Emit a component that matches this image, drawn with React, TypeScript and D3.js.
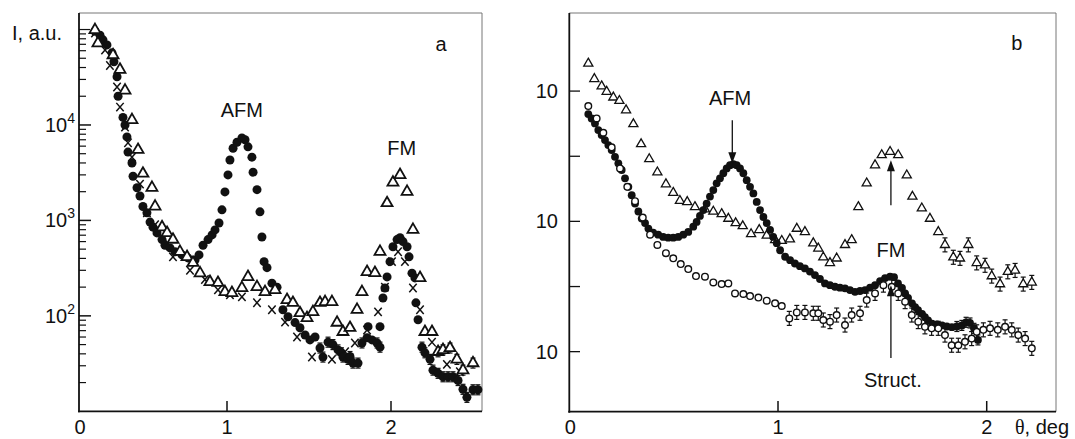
import React, { useEffect, useRef } from "react";
import * as d3 from "d3";

type Pt = [number, number];

// ---- panel a: intensity (a.u.) vs theta (deg), log y ----
const aCircles: Pt[] = [
  [0.108, 96000], [0.142, 87000], [0.162, 78000], [0.189, 69000], [0.223, 57000],
  [0.236, 46000], [0.257, 32000], [0.264, 20000], [0.297, 12000], [0.311, 10000],
  [0.324, 7500], [0.331, 5200], [0.358, 4000], [0.365, 2900], [0.392, 2200],
  [0.412, 1800], [0.432, 1400], [0.459, 1200], [0.48, 960], [0.5, 850],
  [0.527, 740], [0.561, 630], [0.581, 550], [0.615, 515], [0.649, 470],
  [0.696, 435], [0.736, 405], [0.784, 385], [0.811, 435], [0.838, 550],
  [0.872, 630], [0.899, 705], [0.919, 795], [0.946, 940], [0.966, 1290],
  [0.986, 1990], [1.006, 3000], [1.018, 4300], [1.037, 5700], [1.061, 6600],
  [1.091, 7300], [1.11, 7000], [1.128, 5900], [1.152, 4600], [1.159, 3200],
  [1.183, 2100], [1.201, 1230], [1.213, 670], [1.226, 370], [1.244, 320],
  [1.274, 220], [1.305, 200], [1.341, 116], [1.372, 98], [1.415, 85],
  [1.445, 75], [1.476, 63], [1.506, 56], [1.537, 60], [1.567, 46],
  [1.585, 37], [1.616, 53], [1.646, 50], [1.677, 44], [1.698, 41],
  [1.707, 37], [1.738, 35], [1.75, 37.5], [1.768, 32], [1.799, 32],
  [1.823, 52], [1.854, 59], [1.86, 77], [1.884, 56], [1.915, 52],
  [1.933, 77], [1.933, 47], [1.951, 154], [1.963, 196], [1.976, 256],
  [1.994, 370], [2.012, 530], [2.037, 630], [2.055, 660], [2.073, 600],
  [2.098, 530], [2.11, 415], [2.128, 280], [2.146, 250], [2.152, 137],
  [2.165, 91], [2.189, 47], [2.207, 41], [2.238, 35], [2.256, 27],
  [2.287, 25], [2.317, 23], [2.348, 23], [2.378, 23], [2.409, 21],
  [2.439, 17], [2.463, 14], [2.5, 16.8], [2.53, 16.8],
];

const aTriangles: Pt[] = [
  [0.108, 99000], [0.128, 72000], [0.23, 54000], [0.277, 38000], [0.311, 23000],
  [0.358, 11300], [0.399, 5500], [0.432, 3100], [0.493, 2200], [0.514, 1400],
  [0.561, 850], [0.595, 740], [0.635, 630], [0.682, 470], [0.73, 415],
  [0.77, 360], [0.818, 280], [0.885, 227], [0.939, 222], [0.986, 178],
  [1.03, 174], [1.091, 196], [1.128, 256], [1.183, 201], [1.232, 178],
  [1.293, 187], [1.366, 147], [1.402, 137], [1.445, 107], [1.488, 95],
  [1.524, 110], [1.567, 137], [1.598, 140], [1.64, 140], [1.671, 85],
  [1.707, 68], [1.75, 75], [1.793, 116], [1.823, 178], [1.854, 289],
  [1.902, 282], [1.933, 470], [1.976, 1520], [2.012, 2500], [2.055, 3000],
  [2.098, 2000], [2.134, 800], [2.177, 250], [2.207, 68], [2.25, 68],
  [2.287, 42], [2.317, 44], [2.36, 46], [2.402, 35], [2.439, 27], [2.5, 32],
];

const aCrosses: Pt[] = [
  [0.108, 92000], [0.176, 61000], [0.209, 42000], [0.257, 25000], [0.277, 15400],
  [0.311, 9500], [0.331, 6500], [0.358, 4600], [0.412, 2400], [0.459, 1200],
  [0.514, 900], [0.568, 660], [0.635, 415], [0.75, 300], [0.851, 240],
  [0.939, 187], [1.018, 166], [1.091, 158], [1.183, 137], [1.274, 116],
  [1.354, 86], [1.427, 60], [1.518, 37], [1.64, 35], [1.72, 42],
  [1.78, 52], [1.854, 71], [1.921, 110], [1.963, 200], [2.006, 370],
  [2.043, 470], [2.085, 370], [2.134, 196], [2.177, 116], [2.25, 53],
  [2.341, 31], [2.42, 26],
];

const aXTicks = [0, 1, 2];
const aYTicks = [100, 1000, 10000];
const aYTickExp = ["2", "3", "4"];

// ---- panel b ----
const bFilled: Pt[] = [
  [0.091, 666], [0.107, 616], [0.123, 565], [0.139, 502], [0.155, 460],
  [0.171, 421], [0.187, 385], [0.203, 353], [0.219, 313], [0.235, 279],
  [0.251, 248], [0.267, 214], [0.283, 184], [0.299, 159], [0.315, 137],
  [0.331, 119], [0.347, 105], [0.363, 97], [0.379, 88], [0.402, 82],
  [0.426, 79], [0.45, 76], [0.474, 75], [0.498, 75], [0.522, 76],
  [0.546, 79], [0.57, 83], [0.594, 91], [0.61, 99], [0.626, 110],
  [0.642, 122], [0.658, 137], [0.674, 155], [0.69, 174], [0.706, 196],
  [0.722, 214], [0.738, 234], [0.754, 255], [0.77, 270], [0.786, 275],
  [0.802, 270], [0.818, 255], [0.834, 234], [0.85, 207], [0.866, 184],
  [0.882, 164], [0.898, 141], [0.914, 122], [0.93, 108], [0.946, 97],
  [0.962, 86], [0.977, 76], [0.994, 68], [1.01, 60], [1.034, 53.5],
  [1.058, 50.4], [1.081, 47.5], [1.105, 45.3], [1.129, 43.5], [1.153, 41.2],
  [1.177, 38.7], [1.201, 36.1], [1.225, 33.4], [1.249, 32.4], [1.273, 31.5],
  [1.297, 31], [1.321, 30.6], [1.345, 29.7], [1.369, 28.8], [1.393, 29.2],
  [1.417, 29.7], [1.441, 31], [1.465, 32.4], [1.489, 34.8], [1.513, 36.7],
  [1.537, 37.6], [1.556, 37.3], [1.575, 33.4], [1.594, 30.8], [1.609, 28],
  [1.623, 25.8], [1.642, 23.5], [1.657, 22], [1.671, 20.8], [1.69, 19.5],
  [1.704, 18.4], [1.719, 17.4], [1.738, 16.4], [1.762, 16.2], [1.786, 15.9],
  [1.809, 15.6], [1.833, 15.4], [1.857, 15.6], [1.881, 15.9], [1.901, 16.8],
  [1.92, 16.6], [1.939, 15.1], [1.958, 12.3],
];

const bOpen: Pt[] = [
  [0.091, 767], [0.131, 617], [0.163, 479], [0.203, 370], [0.243, 255],
  [0.278, 184], [0.315, 143], [0.352, 107], [0.387, 79], [0.422, 66],
  [0.463, 57], [0.498, 52], [0.534, 47], [0.57, 43], [0.607, 38],
  [0.65, 37.6], [0.69, 34], [0.73, 33], [0.762, 33.4], [0.794, 28],
  [0.834, 27.7], [0.866, 26.7], [0.906, 26], [0.946, 24.6], [0.986, 23.5],
  [1.018, 22.4], [1.054, 18], [1.09, 20], [1.129, 20], [1.169, 19.7],
  [1.193, 19.7], [1.217, 17.5], [1.249, 17], [1.281, 19.1], [1.321, 16],
  [1.353, 19.1], [1.393, 19.7], [1.425, 24.9], [1.465, 28], [1.505, 32.4],
  [1.545, 31.5], [1.576, 28], [1.609, 24.2], [1.641, 19.1], [1.672, 17],
  [1.704, 15.5], [1.736, 15.1], [1.768, 15.1], [1.8, 13.4], [1.832, 11.2],
  [1.864, 11.2], [1.896, 11.9], [1.928, 12.6], [1.952, 14.2], [1.984, 14.7],
  [2.016, 15.1], [2.053, 14.7], [2.088, 15.5], [2.12, 14.7], [2.151, 13.4],
  [2.184, 12.6], [2.216, 10.6],
];

const bTriangles: Pt[] = [
  [0.091, 1630], [0.12, 1240], [0.155, 1090], [0.179, 990], [0.211, 895],
  [0.24, 843], [0.272, 714], [0.307, 558], [0.344, 392], [0.383, 301],
  [0.422, 238], [0.463, 193], [0.498, 166], [0.53, 144], [0.565, 141],
  [0.602, 129], [0.65, 124], [0.69, 119], [0.73, 114], [0.762, 105],
  [0.797, 97], [0.831, 92], [0.871, 80], [0.91, 86], [0.946, 78],
  [0.986, 72], [1.018, 71], [1.057, 73], [1.09, 88], [1.129, 83],
  [1.169, 68], [1.193, 62], [1.217, 53], [1.249, 48], [1.281, 52],
  [1.321, 66], [1.353, 72], [1.385, 129], [1.425, 196], [1.465, 270],
  [1.497, 323], [1.537, 342], [1.576, 323], [1.617, 226], [1.644, 155],
  [1.689, 126], [1.728, 105], [1.768, 83], [1.8, 66], [1.84, 53],
  [1.872, 52], [1.912, 66], [1.952, 48], [1.992, 46], [2.024, 38],
  [2.064, 33], [2.101, 41], [2.136, 42], [2.175, 33], [2.216, 34],
];

const bXTicks = [0, 1, 2];
const bYTicks = [10, 100, 1000];
const bYMinor = [31.6, 316];

const aNotes = [
  { text: "AFM", x: 1.09, y: 12100 },
  { text: "FM", x: 2.065, y: 4850 },
  { text: "a", x: 2.305, y: 59600 },
];
const bNotes = [
  { text: "AFM", x: 0.77, y: 782 },
  { text: "FM", x: 1.541, y: 53.5 },
  { text: "Struct.", x: 1.55, y: 5.38 },
  { text: "b", x: 2.144, y: 2070 },
];
// vertical arrows: [x, tail value, head value]
const bArrows: [number, number, number][] = [
  [0.781, 598, 279],
  [1.541, 133, 295],
  [1.541, 8.93, 32.4],
];

const W = 1075;
const H = 439;
const FONT = "'Liberation Sans', Arial, Helvetica, sans-serif";
const INK = "#111";
const LABEL_Y = 434;

export default function App() {
  const svgRef = useRef<SVGSVGElement>(null);

  useEffect(() => {
    const svg = d3.select(svgRef.current);
    svg.selectAll("*").remove();
    svg.append("rect").attr("width", W).attr("height", H).attr("fill", "#fff");

    const frame = (x0: number, x1: number, y0: number, y1: number) => {
      svg.append("line").attr("x1", x0).attr("x2", x1).attr("y1", y0).attr("y2", y0)
        .attr("stroke", "#777").attr("stroke-width", 1);
      svg.append("line").attr("x1", x1).attr("x2", x1).attr("y1", y0).attr("y2", y1)
        .attr("stroke", "#777").attr("stroke-width", 1);
      svg.append("line").attr("x1", x0).attr("x2", x0).attr("y1", y0).attr("y2", y1 + 1)
        .attr("stroke", INK).attr("stroke-width", 1.8);
      svg.append("line").attr("x1", x0 - 1).attr("x2", x1).attr("y1", y1).attr("y2", y1)
        .attr("stroke", INK).attr("stroke-width", 1.8);
    };

    const errBars = (pts: Pt[], x: any, y: any, half: number) => {
      const g = svg.append("g").attr("stroke", INK).attr("stroke-width", 1.2);
      pts.forEach(([vx, vy]) => {
        const cx = x(vx), cy = y(vy);
        g.append("line").attr("x1", cx).attr("x2", cx).attr("y1", cy - half).attr("y2", cy + half);
        g.append("line").attr("x1", cx - 2.5).attr("x2", cx + 2.5).attr("y1", cy + half).attr("y2", cy + half);
        g.append("line").attr("x1", cx - 2.5).attr("x2", cx + 2.5).attr("y1", cy - half).attr("y2", cy - half);
      });
    };

    const text = (t: string, x: number, y: number, anchor = "middle") =>
      svg.append("text").attr("x", x).attr("y", y).attr("text-anchor", anchor)
        .attr("font-family", FONT).attr("font-size", 20).attr("fill", INK).text(t);

    // ================= panel a =================
    // the original axis is unevenly spaced between 0,1 and 1,2
    const xa = d3.scaleLinear().domain([0, 1, 2, 2.555]).range([79, 227, 391, 482]);
    const ya = d3.scaleLog().domain([10, 149000]).range([411.3, 13]);
    frame(79, 482, 13, 411.3);

    // y ticks (inside)
    const aMinor = ya.ticks().filter((v) => !aYTicks.includes(v) && v > 10);
    svg.append("g").selectAll("line").data(aMinor).join("line")
      .attr("x1", 79).attr("x2", (d) => (Math.abs(Math.log10(d) - Math.round(Math.log10(d))) < 1e-6 ? 90 : 86))
      .attr("y1", (d) => ya(d)).attr("y2", (d) => ya(d))
      .attr("stroke", INK).attr("stroke-width", 1.2);
    svg.append("g").selectAll("line").data(aYTicks).join("line")
      .attr("x1", 79).attr("x2", 91).attr("y1", (d) => ya(d)).attr("y2", (d) => ya(d))
      .attr("stroke", INK).attr("stroke-width", 1.5);
    aYTicks.forEach((v, i) => {
      const t = svg.append("text").attr("x", 75).attr("y", ya(v) + 7).attr("text-anchor", "end")
        .attr("font-family", FONT).attr("font-size", 20).attr("fill", INK);
      t.append("tspan").text("10");
      t.append("tspan").attr("dy", -9).attr("font-size", 14).text(aYTickExp[i]);
    });
    // x ticks
    svg.append("g").selectAll("line").data(aXTicks.filter((d) => d > 0)).join("line")
      .attr("x1", (d) => xa(d)).attr("x2", (d) => xa(d)).attr("y1", 411).attr("y2", 401)
      .attr("stroke", INK).attr("stroke-width", 1.5);
    aXTicks.forEach((v) => text(String(v), xa(v) + (v === 0 ? 1 : 0), LABEL_Y));

    text("I, a.u.", 12, 40, "start");

    errBars(aCircles.filter((p) => p[1] < 55), xa, ya, 5);
    errBars(aTriangles.filter((p) => p[1] < 48), xa, ya, 5);

    svg.append("g").selectAll("path").data(aCrosses).join("path")
      .attr("d", "M-3.7,-4.2L3.7,4.2M-3.7,4.2L3.7,-4.2")
      .attr("transform", (d) => `translate(${xa(d[0])},${ya(d[1])})`)
      .attr("stroke", INK).attr("stroke-width", 1.5).attr("fill", "none");
    svg.append("g").selectAll("circle").data(aCircles).join("circle")
      .attr("cx", (d) => xa(d[0])).attr("cy", (d) => ya(d[1])).attr("r", 4.5).attr("fill", INK);
    const triA = d3.symbol(d3.symbolTriangle, 52);
    svg.append("g").selectAll("path").data(aTriangles).join("path")
      .attr("d", triA as any)
      .attr("transform", (d) => `translate(${xa(d[0])},${ya(d[1])})`)
      .attr("fill", "#fff").attr("stroke", INK).attr("stroke-width", 1.8);

    aNotes.forEach((n) => text(n.text, xa(n.x), ya(n.y)));

    // ================= panel b =================
    const xb = d3.scaleLinear().domain([0, 2.332]).range([569.3, 1056]);
    const yb = d3.scaleLog().domain([3.46, 3975]).range([411.7, 13]);
    frame(569.3, 1056, 13, 411.7);

    svg.append("g").selectAll("line").data([...bYTicks, ...bYMinor]).join("line")
      .attr("x1", 569.3).attr("x2", 580).attr("y1", (d) => yb(d)).attr("y2", (d) => yb(d))
      .attr("stroke", INK).attr("stroke-width", 1.3);
    bYTicks.forEach((v) => text("10", 558, yb(v) + 7, "end"));
    svg.append("g").selectAll("line").data(bXTicks.filter((d) => d > 0)).join("line")
      .attr("x1", (d) => xb(d)).attr("x2", (d) => xb(d)).attr("y1", 411.7).attr("y2", 401)
      .attr("stroke", INK).attr("stroke-width", 1.5);
    bXTicks.forEach((v) => text(String(v), xb(v) + (v === 0 ? 1 : 0), LABEL_Y));

    const th = svg.append("text").attr("x", 1015).attr("y", LABEL_Y).attr("font-family", FONT)
      .attr("font-size", 20).attr("fill", INK);
    th.append("tspan").attr("font-family", "'Liberation Serif', 'Times New Roman', serif").text("θ");
    th.append("tspan").text(", deg");

    errBars(bOpen.filter((p) => p[0] > 1.04), xb, yb, 7);
    errBars(bTriangles.filter((p) => p[0] > 1.78), xb, yb, 7);
    errBars(bFilled.filter((p) => p[0] > 1.84), xb, yb, 5);

    const triB = d3.symbol(d3.symbolTriangle, 36);
    svg.append("g").selectAll("path").data(bTriangles).join("path")
      .attr("d", triB as any)
      .attr("transform", (d) => `translate(${xb(d[0])},${yb(d[1])})`)
      .attr("fill", "#fff").attr("stroke", INK).attr("stroke-width", 1.3);
    svg.append("g").selectAll("circle").data(bFilled).join("circle")
      .attr("cx", (d) => xb(d[0])).attr("cy", (d) => yb(d[1])).attr("r", 3.9).attr("fill", INK);
    svg.append("g").selectAll("circle").data(bOpen).join("circle")
      .attr("cx", (d) => xb(d[0])).attr("cy", (d) => yb(d[1])).attr("r", 3.3)
      .attr("fill", "#fff").attr("stroke", INK).attr("stroke-width", 1.4);

    bArrows.forEach(([ax, from, to]) => {
      const x = xb(ax), y0 = yb(from), y1 = yb(to);
      const dir = y1 > y0 ? 1 : -1;
      svg.append("line").attr("x1", x).attr("x2", x).attr("y1", y0).attr("y2", y1 - dir * 8)
        .attr("stroke", INK).attr("stroke-width", 1.3);
      svg.append("path")
        .attr("d", `M${x - 4},${y1 - dir * 11}L${x + 4},${y1 - dir * 11}L${x},${y1}Z`)
        .attr("fill", INK);
    });

    bNotes.forEach((n) => text(n.text, xb(n.x), yb(n.y)));
  }, []);

  return (
    <svg
      ref={svgRef}
      width={W}
      height={H}
      style={{ position: "absolute", left: 0, top: 0, display: "block" }}
    />
  );
}
